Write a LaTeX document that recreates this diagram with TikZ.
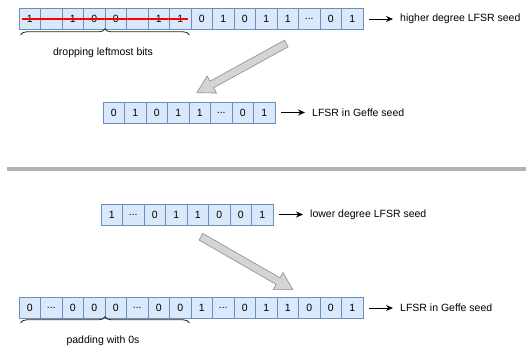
\documentclass[tikz,border=0pt]{standalone}
\usepackage{fontspec}
\setmainfont{Liberation Sans}
\usetikzlibrary{arrows.meta,decorations.pathreplacing,shapes.arrows}
\definecolor{cellfill}{HTML}{DAE8FC}
\definecolor{celldraw}{HTML}{6C8EBF}
\definecolor{bigfill}{HTML}{D4D4D4}
\definecolor{bigdraw}{HTML}{8C8C8C}
\definecolor{sepgray}{HTML}{B3B3B3}
\newcommand\dotsx{...}
\tikzset{
  cell/.style={draw=celldraw, fill=cellfill, line width=0.6pt, minimum width=21.5pt, minimum height=21pt, inner sep=0pt, font=\fontsize{10.5}{12}\selectfont},
  lbl/.style={inner sep=0pt, anchor=west, font=\fontsize{10.5}{12}\selectfont},
  blbl/.style={inner sep=0pt, font=\fontsize{10.5}{12}\selectfont},
  sarrow/.style={-{Stealth[length=7pt,width=6pt]}, line width=0.9pt, black},
  bigarrow/.style={single arrow, draw=bigdraw, fill=bigfill, line width=0.6pt, inner xsep=0pt, inner ysep=3.5pt, minimum width=7pt, single arrow head extend=6pt, single arrow tip angle=60, font=\fontsize{1}{1}\selectfont},
  bracey/.style={decorate, decoration={brace, amplitude=6pt}, line width=0.8pt, black!85}
}
\begin{document}
\begin{tikzpicture}[x=1pt,y=-1pt]
\useasboundingbox (0,0) rectangle (526,349);
% row 1
\foreach \t [count=\i] in {1,\dotsx,1,0,0,\dotsx,1,1,0,1,0,1,1,\dotsx,0,1}
  \node[cell] (a\i) at ({19+21.5*(\i-0.5)},19) {\t};
\draw[red, line width=1.6pt] ([xshift=3pt]a1.west) -- ([xshift=-3pt]a8.east);
\node[lbl] (t1) at (400,19) {higher degree LFSR seed};
\draw[sarrow] ([xshift=6pt]a16.east) -- ([xshift=-7pt]t1.west);
\draw[bracey] ([xshift=2pt,yshift=-5pt]a1.south west) -- ([xshift=-2pt,yshift=-5pt]a8.south east);
\node[blbl] (b1) at (103,53) {dropping leftmost bits};
% row 2
\foreach \t [count=\i] in {0,1,0,1,1,\dotsx,0,1}
  \node[cell] (c\i) at ({103+21.5*(\i-0.5)},112.5) {\t};
\node[lbl] (t2) at (312,112.5) {LFSR in Geffe seed};
\draw[sarrow] ([xshift=6pt]c8.east) -- ([xshift=-7pt]t2.west);
\node[bigarrow, minimum height=102pt, rotate=208.8] (ar1) at (244.5,66.5) {};
% separator
\draw[sepgray, line width=4.5pt] (7,169) coordinate (s1) -- (526,169) coordinate (s2);
% row 3
\foreach \t [count=\i] in {1,\dotsx,0,1,1,0,0,1}
  \node[cell] (d\i) at ({101+21.5*(\i-0.5)},214.5) {\t};
\node[lbl] (t3) at (310,214.5) {lower degree LFSR seed};
\draw[sarrow] ([xshift=6pt]d8.east) -- ([xshift=-7pt]t3.west);
\node[bigarrow, minimum height=106pt, rotate=-29.9] (ar2) at (244,261.5) {};
% row 4
\foreach \t [count=\i] in {0,\dotsx,0,0,0,\dotsx,0,0,1,\dotsx,0,1,1,0,0,1}
  \node[cell] (e\i) at ({19+21.5*(\i-0.5)},308) {\t};
\node[lbl] (t4) at (400,308) {LFSR in Geffe seed};
\draw[sarrow] ([xshift=6pt]e16.east) -- ([xshift=-7pt]t4.west);
\draw[bracey] ([xshift=2pt,yshift=-4pt]e1.south west) -- ([xshift=-2pt,yshift=-4pt]e8.south east);
\node[blbl] (b2) at (103,341) {padding with 0s};
\end{tikzpicture}
\end{document}
